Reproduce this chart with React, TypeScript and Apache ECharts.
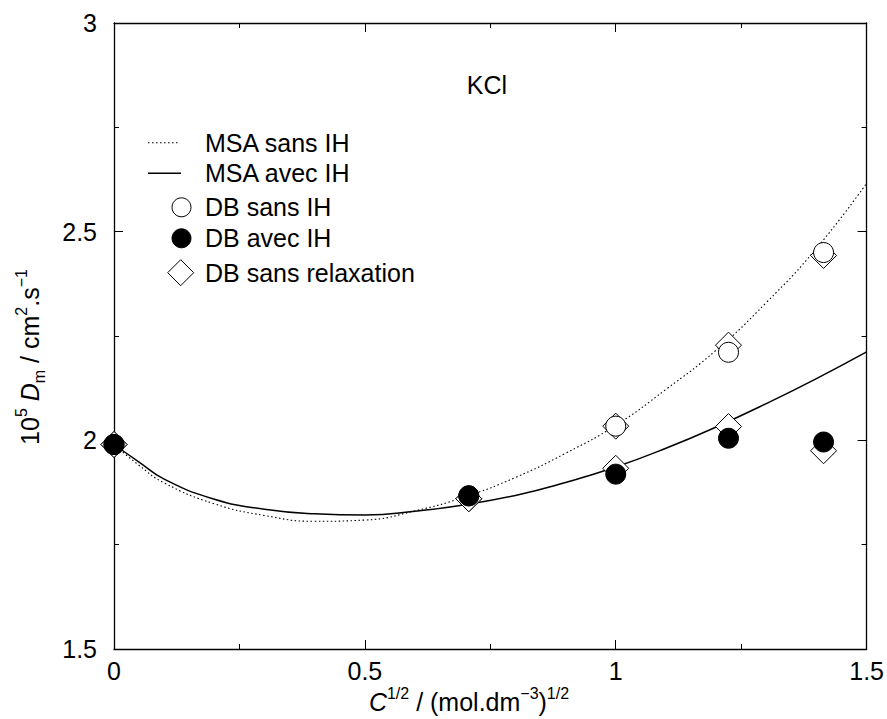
import React, { useEffect, useRef } from "react";
import * as echarts from "echarts";

// x = C^(1/2)
const xCurve = [0, 0.05, 0.1, 0.2, 0.3, 0.4, 0.5, 0.6, 0.7, 0.8, 0.9, 1.0, 1.1, 1.2, 1.3, 1.4, 1.5];
const msaSansIH = [1.99, 1.94, 1.898, 1.848, 1.82, 1.806, 1.809, 1.831, 1.865, 1.911, 1.969, 2.036, 2.122, 2.216, 2.33, 2.46, 2.616];
const msaAvecIH = [1.99, 1.948, 1.907, 1.859, 1.835, 1.824, 1.821, 1.83, 1.846, 1.868, 1.899, 1.936, 1.981, 2.032, 2.088, 2.148, 2.212];

const xDB = [0, 0.7071, 1.0, 1.2247, 1.4142];
const dbSansIH = [1.99, 1.867, 2.034, 2.211, 2.45];
const dbAvecIH = [1.99, 1.867, 1.919, 2.005, 1.996];
const dbSansRelaxSansIH = [1.99, 1.86, 2.034, 2.228, 2.443];
const dbSansRelaxAvecIH = [1.99, 1.86, 1.933, 2.033, 1.975];

const legendLabels = ["MSA sans IH", "MSA avec IH", "DB sans IH", "DB avec IH", "DB sans relaxation"];
const titleText = "KCl";

const FONT = "'Liberation Sans', Arial, Helvetica, sans-serif";
const FS = 25;

const zip = (xs: number[], ys: number[]) => xs.map((x, i) => [x, ys[i]]);

export default function App() {
  const ref = useRef<HTMLDivElement>(null);
  useEffect(() => {
    const chart = echarts.init(ref.current!, null, { renderer: "svg" });
    const axisCommon = {
      type: "value",
      interval: 0.5,
      splitLine: { show: false },
      axisLine: { show: true, onZero: false, lineStyle: { color: "#000", width: 1.3 } },
      axisTick: { show: true, inside: true, length: 9, lineStyle: { color: "#000", width: 1 } },
      minorTick: { show: true, splitNumber: 2, length: 5, lineStyle: { color: "#000", width: 1 } },
      minorSplitLine: { show: false },
    };
    const legendRows = [142.7, 173.3, 207.3, 238.3, 272.7];
    const sup = { fontSize: 16, fontFamily: FONT, verticalAlign: "top", lineHeight: 14, fill: "#000" };
    const sub = { fontSize: 16, fontFamily: FONT, verticalAlign: "bottom", lineHeight: 12, fill: "#000" };
    const n = { fontSize: FS, fontFamily: FONT, lineHeight: 34, fill: "#000" };
    const it = { fontSize: FS, fontFamily: FONT, lineHeight: 34, fontStyle: "italic", fill: "#000" };
    const graphic: any[] = [
      {
        type: "text",
        x: 487,
        y: 85,
        style: { text: titleText, font: `${FS}px ${FONT}`, fill: "#000", align: "center", verticalAlign: "middle" },
      },
      // x axis title
      {
        type: "text",
        x: 469,
        y: 702,
        style: {
          text: "{i|C}{sup|1/2}{n| / (mol.dm}{sup|\u22123}{n|)}{sup|1/2}",
          align: "center",
          verticalAlign: "middle",
          rich: { i: it, n, sup },
        },
      },
      // y axis title
      {
        type: "text",
        x: 30,
        y: 357,
        rotation: Math.PI / 2,
        style: {
          text: "{n|10}{sup|5}{n| }{i|D}{sub|m}{n| / cm}{sup|2}{n|.s}{sup|\u22121}",
          align: "center",
          verticalAlign: "middle",
          rich: { i: it, n, sup, sub },
        },
      },
      // legend symbols
      {
        type: "line",
        shape: { x1: 148, y1: legendRows[0], x2: 180, y2: legendRows[0] },
        style: { stroke: "#000", lineWidth: 1.1, lineDash: [1.5, 2.5] },
      },
      {
        type: "line",
        shape: { x1: 148, y1: legendRows[1], x2: 181, y2: legendRows[1] },
        style: { stroke: "#000", lineWidth: 1.4 },
      },
      {
        type: "circle",
        shape: { cx: 181.5, cy: legendRows[2], r: 9.5 },
        style: { stroke: "#000", fill: "#fff", lineWidth: 1 },
      },
      {
        type: "circle",
        shape: { cx: 181.5, cy: legendRows[3], r: 9.5 },
        style: { stroke: "#000", fill: "#000", lineWidth: 1 },
      },
      {
        type: "polygon",
        shape: {
          points: [
            [180.7, legendRows[4] - 13],
            [193.7, legendRows[4]],
            [180.7, legendRows[4] + 13],
            [167.7, legendRows[4]],
          ],
        },
        style: { stroke: "#000", fill: "#fff", lineWidth: 1 },
      },
      ...legendLabels.map((t, i) => ({
        type: "text",
        x: 205,
        y: legendRows[i],
        style: { text: t, font: `${FS}px ${FONT}`, fill: "#000", align: "left", verticalAlign: "middle" },
      })),
    ];

    chart.setOption({
      animation: false,
      backgroundColor: "#fff",
      grid: { left: 114, right: 20, top: 23, bottom: 70, containLabel: false },
      xAxis: [
        {
          ...axisCommon,
          position: "bottom",
          min: 0,
          max: 1.5,
          axisLabel: { show: true, color: "#000", fontSize: FS, fontFamily: FONT, margin: 9 },
        },
        {
          ...axisCommon,
          position: "top",
          min: 0,
          max: 1.5,
          axisLabel: { show: false },
        },
      ],
      yAxis: [
        {
          ...axisCommon,
          position: "left",
          min: 1.5,
          max: 3,
          axisLabel: { show: true, color: "#000", fontSize: FS, fontFamily: FONT, margin: 17 },
        },
        {
          ...axisCommon,
          position: "right",
          min: 1.5,
          max: 3,
          axisLabel: { show: false },
        },
      ],
      graphic,
      series: [
        {
          name: legendLabels[0],
          type: "line",
          data: zip(xCurve, msaSansIH),
          smooth: true,
          showSymbol: false,
          symbol: "none",
          lineStyle: { color: "#000", width: 1.1, type: [1.5, 2.5] },
          z: 2,
        },
        {
          name: legendLabels[1],
          type: "line",
          data: zip(xCurve, msaAvecIH),
          smooth: true,
          showSymbol: false,
          symbol: "none",
          lineStyle: { color: "#000", width: 1.5 },
          z: 2,
        },
        {
          name: legendLabels[4],
          type: "scatter",
          data: zip(xDB, dbSansRelaxSansIH),
          symbol: "diamond",
          symbolSize: [26, 26],
          itemStyle: { color: "#fff", borderColor: "#000", borderWidth: 1, opacity: 1 },
          z: 3,
        },
        {
          name: legendLabels[4] + " (IH)",
          type: "scatter",
          data: zip(xDB, dbSansRelaxAvecIH),
          symbol: "diamond",
          symbolSize: [26, 26],
          itemStyle: { color: "#fff", borderColor: "#000", borderWidth: 1, opacity: 1 },
          z: 3,
        },
        {
          name: legendLabels[2],
          type: "scatter",
          data: zip(xDB, dbSansIH),
          symbol: "circle",
          symbolSize: 20,
          itemStyle: { color: "#fff", borderColor: "#000", borderWidth: 1, opacity: 1 },
          z: 4,
        },
        {
          name: legendLabels[3],
          type: "scatter",
          data: zip(xDB, dbAvecIH),
          symbol: "circle",
          symbolSize: 20,
          itemStyle: { color: "#000", borderColor: "#000", borderWidth: 1, opacity: 1 },
          z: 5,
        },
      ],
    });
    return () => chart.dispose();
  }, []);
  return (
    <div
      ref={ref}
      style={{ position: "fixed", left: 0, top: 0, width: 887, height: 719, background: "#fff" }}
    />
  );
}
